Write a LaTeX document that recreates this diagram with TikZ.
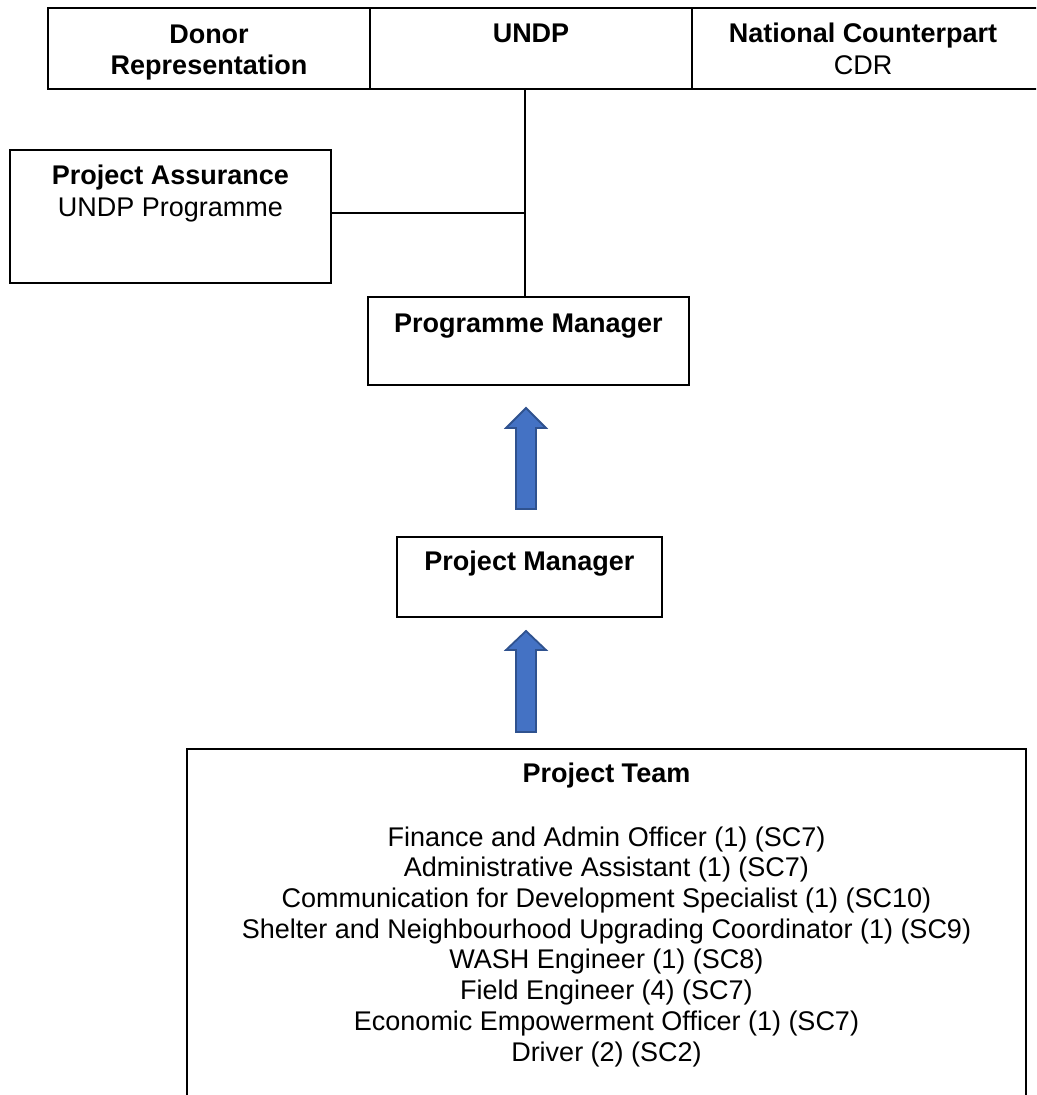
\documentclass[tikz,border=0pt]{standalone}
\usepackage{fontspec}
\setmainfont{Liberation Sans}
\definecolor{arrowblue}{HTML}{4472C4}
\definecolor{arrowedge}{HTML}{2F528F}
\begin{document}
\begin{tikzpicture}[x=0.4445pt,y=-0.4445pt,
  box/.style={draw,line width=0.7pt,inner sep=0pt},
  lbl/.style={inner sep=0pt,anchor=base,align=center,font=\fontsize{12}{14.2}\selectfont},
  blbl/.style={lbl,font=\fontsize{12}{14.2}\selectfont\bfseries},
  conn/.style={line width=0.6pt},
  blockarrow/.style={fill=arrowblue,draw=arrowedge,line width=0.8pt,line join=miter}]
\clip (0,0) rectangle (1036,1095);
% top table
\node[box,minimum width=143.13pt,minimum height=36pt] (donor) at (209,48.5) {};
\node[box,minimum width=143.13pt,minimum height=36pt] (undp) at (531,48.5) {};
\node[box,minimum width=154.69pt,minimum height=36pt] (natc) at (866,48.5) {};
\node[blbl] (donortxt) at (209,75) {Donor\\Representation};
\node[blbl] (undptxt) at (531,43) {UNDP};
\node[blbl] (natctxt) at (863,43) {National Counterpart};
\node[lbl] (cdrtxt) at (863,75) {CDR};
% boxes
\node[box,minimum width=142.68pt,minimum height=59.12pt] (passur) at (170.5,216.5) {};
\node[blbl] (passurtxt) at (170.5,185) {Project Assurance};
\node[lbl] (passursub) at (170.5,217) {UNDP Programme};
\node[box,minimum width=142.68pt,minimum height=39.12pt] (pmgr) at (528.5,341) {};
\node[blbl] (pmgrtxt) at (528.5,332) {Programme Manager};
\node[box,minimum width=117.79pt,minimum height=35.56pt] (prjmgr) at (529.5,577) {};
\node[blbl] (prjmgrtxt) at (529.5,570) {Project Manager};
\node[box,minimum width=372.94pt,minimum height=164.9pt] (team) at (606.5,934.5) {};
\node[blbl] (teamtxt) at (606.5,782) {Project Team};
\node[lbl,font=\fontsize{12}{13.65}\selectfont] (teamlist) at (606.5,1061) {Finance and Admin Officer (1) (SC7)\\
Administrative Assistant (1) (SC7)\\
Communication for Development Specialist (1) (SC10)\\
Shelter and Neighbourhood Upgrading Coordinator (1) (SC9)\\
WASH Engineer (1) (SC8)\\
Field Engineer (4) (SC7)\\
Economic Empowerment Officer (1) (SC7)\\
Driver (2) (SC2)};
% connectors
\coordinate (jn) at (525,213);
\draw[conn] (undp.south -| jn) -- (jn) -- (jn |- pmgr.north);
\draw[conn] (passur.east |- jn) -- (jn);
% block arrows
\draw[blockarrow] (516,509) -- (516,428) -- (506,428) -- (526,408) -- (546,428) -- (536,428) -- (536,509) -- cycle;
\draw[blockarrow] (516,732) -- (516,650) -- (506,650) -- (526,631) -- (546,650) -- (536,650) -- (536,732) -- cycle;
\end{tikzpicture}
\end{document}
